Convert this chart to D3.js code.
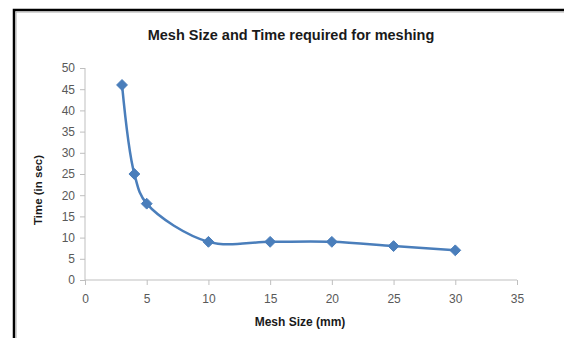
<!DOCTYPE html>
<html>
<head>
<meta charset="utf-8">
<script src="https://cdn.jsdelivr.net/npm/d3@7"></script>
<style>
  body { margin: 0; background: #fff; }
  svg { display: block; font-family: "Liberation Sans", Arial, sans-serif; }
</style>
</head>
<body>
<div id="chart"></div>
<script>
// Datos del gráfico
const meshSize = [3, 4, 5, 10, 15, 20, 25, 30];
const timeSec = [46, 25, 18, 9, 9, 9, 8, 7];
const xTicks = [0, 5, 10, 15, 20, 25, 30, 35];
const yTicks = [0, 5, 10, 15, 20, 25, 30, 35, 40, 45, 50];

const width = 564;
const height = 338;
const plot = { left: 85, right: 517, top: 68, bottom: 280 };

const svg = d3.select("#chart")
  .append("svg")
  .attr("width", width)
  .attr("height", height);

// Marco
svg.append("path")
  .attr("d", `M14,${height} V10 H${width}`)
  .attr("fill", "none")
  .attr("stroke", "#000")
  .attr("stroke-width", 2.5);
svg.append("path")
  .attr("d", `M16,${height} V12 H${width}`)
  .attr("fill", "none")
  .attr("stroke", "#aaa")
  .attr("stroke-width", 1);

const x = d3.scaleLinear().domain([0, 35]).range([plot.left, plot.right]);
const y = d3.scaleLinear().domain([0, 50]).range([plot.bottom, plot.top]);

// Ejes
const xAxis = svg.append("g")
  .attr("transform", `translate(0,${plot.bottom})`)
  .call(d3.axisBottom(x).tickValues(xTicks).tickSize(5).tickPadding(9));
const yAxis = svg.append("g")
  .attr("transform", `translate(${plot.left},0)`)
  .call(d3.axisLeft(y).tickValues(yTicks).tickSize(5).tickPadding(5));

[xAxis, yAxis].forEach(g => {
  g.select(".domain").attr("stroke", "#bfbfbf");
  g.selectAll(".tick line").attr("stroke", "#bfbfbf");
  g.selectAll(".tick text")
    .attr("fill", "#595959")
    .style("font-size", "12px")
    .style("font-family", "'Liberation Sans', Arial, sans-serif");
});
xAxis.select(".domain").attr("d", `M${plot.left},0H${plot.right}`);
yAxis.select(".domain").attr("d", `M0,${plot.bottom}V${plot.top}`);

// Título
svg.append("text")
  .attr("x", 291)
  .attr("y", 40)
  .attr("text-anchor", "middle")
  .attr("font-size", 14.5)
  .attr("font-weight", "bold")
  .attr("fill", "#1a1a1a")
  .text("Mesh Size and Time required for meshing");

svg.append("text")
  .attr("x", 300)
  .attr("y", 326)
  .attr("text-anchor", "middle")
  .attr("font-size", 12)
  .attr("font-weight", "bold")
  .attr("fill", "#1a1a1a")
  .text("Mesh Size (mm)");

svg.append("text")
  .attr("transform", "translate(42,190) rotate(-90)")
  .attr("text-anchor", "middle")
  .attr("font-size", 11.5)
  .attr("font-weight", "bold")
  .attr("fill", "#1a1a1a")
  .text("Time (in sec)");

// Serie
const points = meshSize.map((m, i) => ({ m, t: timeSec[i] }));
const line = d3.line()
  .x(d => x(d.m))
  .y(d => y(d.t))
  .curve(d3.curveCatmullRom.alpha(0.5));

svg.append("path")
  .datum(points)
  .attr("d", line)
  .attr("fill", "none")
  .attr("stroke", "#4a7ebb")
  .attr("stroke-width", 2.5);

svg.selectAll(".marker")
  .data(points)
  .join("path")
  .attr("class", "marker")
  .attr("transform", d => `translate(${x(d.m)},${y(d.t)})`)
  .attr("d", d3.symbol(d3.symbolDiamond2, 75))
  .attr("fill", "#4a7ebb")
  .attr("stroke", "#4a7ebb")
  .attr("stroke-width", 1);
</script>
</body>
</html>
